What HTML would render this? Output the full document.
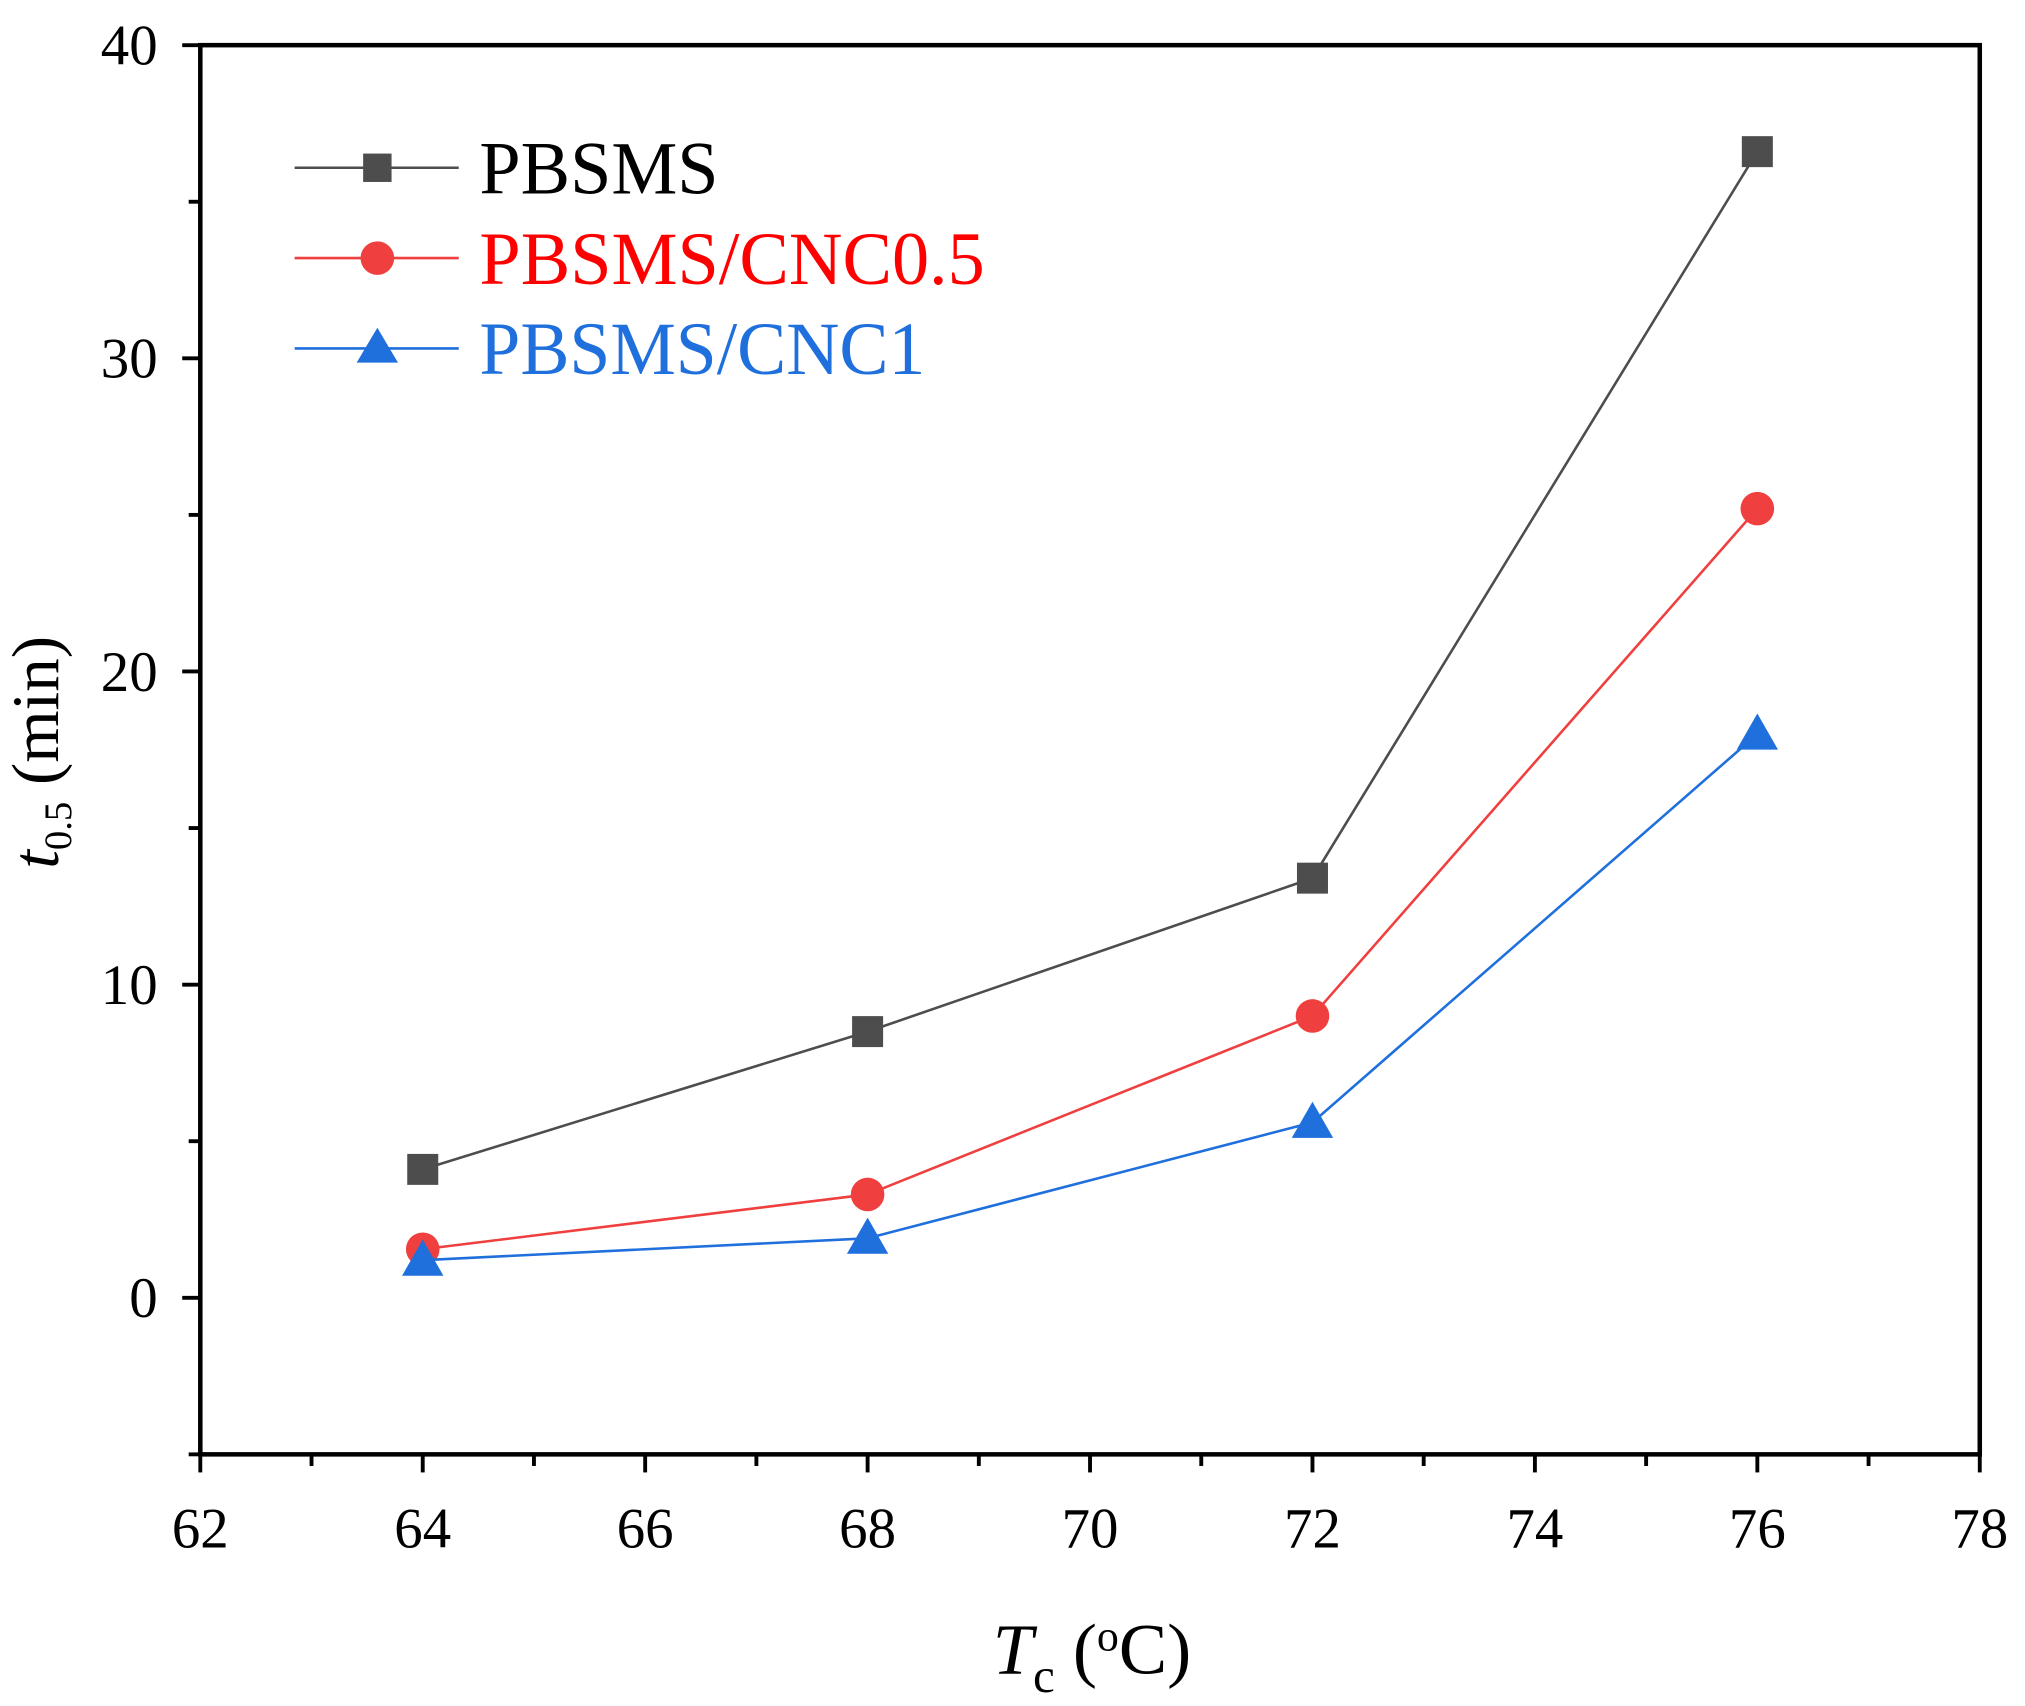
<!DOCTYPE html>
<html><head><meta charset="utf-8"><style>
html,body{margin:0;padding:0;background:#fff;}
svg{display:block;}
text{font-family:"Liberation Serif","Times New Roman",serif;}
</style></head><body>
<svg id="chart" width="2025" height="1706" viewBox="0 0 1567 1322" preserveAspectRatio="none" xmlns="http://www.w3.org/2000/svg">
<g id="axes"></g>
<g id="series"></g>
<g id="legend">
  <line x1="228" y1="130" x2="355" y2="130" stroke="#4d4d4d" stroke-width="2"/>
  <rect x="281" y="119" width="22" height="22" fill="#4d4d4d"/>
  <text x="371" y="150" font-size="58" textLength="185" lengthAdjust="spacingAndGlyphs" fill="#000">PBSMS</text>
  <line x1="228" y1="200" x2="355" y2="200" stroke="#ef3f3f" stroke-width="2"/>
  <circle cx="292" cy="200" r="13" fill="#ef3f3f"/>
  <text x="371" y="220" font-size="58" textLength="391" lengthAdjust="spacingAndGlyphs" fill="#ff0000">PBSMS/CNC0.5</text>
  <line x1="228" y1="270" x2="355" y2="270" stroke="#1f6fdc" stroke-width="2"/>
  <polygon points="292,254 276,281 308,281" fill="#1f6fdc"/>
  <text x="371" y="290" font-size="58" textLength="345" lengthAdjust="spacingAndGlyphs" fill="#1f6fdc">PBSMS/CNC1</text>
</g>
<text x="845" y="1297" font-size="56" text-anchor="middle"><tspan font-style="italic">T</tspan><tspan font-size="38" dy="14">c</tspan><tspan dy="-14">  (</tspan><tspan font-size="34" dy="-18">o</tspan><tspan dy="18">C)</tspan></text>
<text transform="translate(45,583) rotate(-90)" font-size="52" text-anchor="middle"><tspan font-style="italic">t</tspan><tspan font-size="30" dy="10">0.5</tspan><tspan dy="-10">  (min)</tspan></text>
</svg>
<script>
const categories = [64, 68, 72, 76];
const pbsms = [4.1, 8.5, 13.4, 36.6];
const cnc05 = [1.55, 3.3, 9.0, 25.2];
const cnc1 = [1.2, 1.9, 5.6, 18.0];
const xTicks = [62, 64, 66, 68, 70, 72, 74, 76, 78];
const yTicks = [0, 10, 20, 30, 40];

const NS = "http://www.w3.org/2000/svg";
const L = 155, R = 1532, T = 35, B = 1127;
const xMin = 62, xMax = 78, yMin = -5, yMax = 40;
function xs(v){ return L + (v - xMin) / (xMax - xMin) * (R - L); }
function ys(v){ return B - (v - yMin) / (yMax - yMin) * (B - T); }
function mk(tag, attrs, parent){
  const e = document.createElementNS(NS, tag);
  for (const k in attrs) e.setAttribute(k, attrs[k]);
  parent.appendChild(e);
  return e;
}
const axes = document.getElementById('axes');
const frame = mk('rect', {x:L, y:T, width:R-L, height:B-T, fill:'none', stroke:'#000', 'stroke-width':3.5}, axes);


for (let v = xMin; v <= xMax; v += 1) {
  const major = (v % 2 === 0);
  const t = mk('line', {x1:xs(v), x2:xs(v), y1:B, y2:B + (major ? 14 : 9), stroke:'#000', 'stroke-width':3}, axes);
  
  
}
xTicks.forEach(v => {
  const t = mk('text', {x:xs(v), y:B + 72, 'font-size':44, 'text-anchor':'middle'}, axes);
  t.textContent = v;
  
  
});
for (let v = yMin; v <= yMax; v += 5) {
  const major = (v % 10 === 0);
  const t = mk('line', {x1:L - (major ? 14 : 9), x2:L, y1:ys(v), y2:ys(v), stroke:'#000', 'stroke-width':3}, axes);
  
  
}
yTicks.forEach(v => {
  const t = mk('text', {x:L - 33, y:ys(v) + 15, 'font-size':44, 'text-anchor':'end'}, axes);
  t.textContent = v;
  
  
});
const sg = document.getElementById('series');
function drawSeries(vals, color, shape, name){
  const pts = vals.map((v,i) => xs(categories[i]) + ',' + ys(v)).join(' ');
  const pl = mk('polyline', {points:pts, fill:'none', stroke:color, 'stroke-width':2}, sg);
  
  
  vals.forEach((v,i) => {
    const x = xs(categories[i]), y = ys(v);
    let m;
    if (shape === 'square') m = mk('rect', {x:x-12, y:y-12, width:24, height:24, fill:color}, sg);
    else if (shape === 'circle') m = mk('circle', {cx:x, cy:y, r:13, fill:color}, sg);
    else m = mk('polygon', {points:`${x},${y-16} ${x-16},${y+12} ${x+16},${y+12}`, fill:color}, sg);
    
    
  });
}
drawSeries(pbsms, '#4d4d4d', 'square', 'pbsms');
drawSeries(cnc05, '#ef3f3f', 'circle', 'pbsms-cnc05');
drawSeries(cnc1, '#1f6fdc', 'triangle', 'pbsms-cnc1');
</script>
</body></html>
